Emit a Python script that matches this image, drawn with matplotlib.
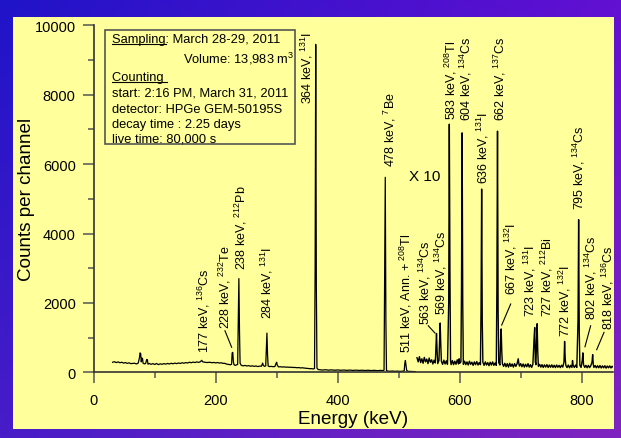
import numpy as np
import matplotlib
matplotlib.use('Agg')
import matplotlib.pyplot as plt
from matplotlib.patches import Rectangle
from matplotlib.lines import Line2D
from matplotlib.transforms import IdentityTransform
from matplotlib.ticker import MultipleLocator

plt.rcParams['font.family'] = ['Liberation Sans', 'DejaVu Sans']
plt.rcParams['mathtext.fontset'] = 'custom'
plt.rcParams['mathtext.rm'] = 'Liberation Sans'
plt.rcParams['mathtext.it'] = 'Liberation Sans:italic'
plt.rcParams['mathtext.bf'] = 'Liberation Sans:bold'
plt.rcParams['mathtext.default'] = 'regular'

# ---------------- data ----------------
# raw spectrum (keV, counts)
energy_raw = [31, 34, 37, 40, 43, 46, 49, 52, 55, 58, 61, 64, 67, 70, 73, 75, 76, 77, 78, 79, 80, 81,
              83, 85, 87, 88, 89, 91, 94, 97, 100, 103, 106, 109, 112, 115, 118, 121, 124, 127, 130,
              133, 136, 139, 142, 145, 148, 151, 154, 157, 160, 163, 166, 169, 172, 175, 177, 179,
              182, 185, 188, 191, 194, 197, 200, 203, 206, 209, 212, 215, 218, 221, 224, 226, 227,
              228, 229, 230, 232, 234, 236, 237, 238, 239, 240, 242, 245, 248, 251, 254, 257, 260,
              263, 266, 269, 272, 275, 277, 278, 280, 282, 283, 284, 285, 286, 288, 291, 294, 297,
              299, 300, 301, 303, 306, 309, 312, 315, 318, 321, 324, 327, 330, 333, 336, 339, 342,
              345, 348, 351, 354, 357, 360, 362, 363, 364, 365, 366, 368, 371, 375, 380, 385, 390,
              395, 400, 405, 410, 415, 420, 425, 430, 435, 440, 445, 450, 455, 460, 465, 470, 474,
              476, 477, 478, 479, 480, 482, 486, 490, 494, 498, 502, 506, 509, 510, 511, 512, 513,
              515, 519, 523, 527]
counts_raw = [290, 305, 280, 300, 275, 290, 265, 280, 258, 272, 250, 255, 262, 240, 265, 420, 560, 540,
              300, 410, 400, 260, 245, 250, 370, 360, 235, 255, 230, 250, 225, 255, 220, 245, 230,
              250, 235, 255, 240, 260, 245, 265, 250, 268, 255, 275, 262, 280, 268, 290, 276, 295,
              280, 300, 285, 305, 345, 298, 292, 282, 285, 288, 275, 285, 270, 282, 266, 274, 258,
              258, 236, 228, 216, 232, 560, 575, 300, 220, 198, 214, 226, 1500, 2700, 1200, 260,
              200, 186, 198, 182, 192, 176, 186, 172, 182, 166, 178, 176, 265, 200, 172, 184, 700,
              1130, 500, 180, 166, 170, 162, 166, 260, 290, 200, 156, 160, 152, 156, 148, 150, 144,
              146, 138, 140, 132, 136, 126, 130, 122, 116, 112, 104, 106, 96, 110, 3000, 9450, 2500,
              120, 80, 72, 65, 74, 62, 70, 60, 68, 58, 65, 56, 64, 55, 62, 54, 60, 52, 59, 50, 57,
              48, 55, 50, 60, 3000, 5620, 1500, 50, 35, 30, 36, 28, 34, 26, 32, 40, 250, 340, 200,
              60, 28, 25, 22, 20]

# x10 expanded spectrum (keV, counts)
energy_x10 = [530, 532, 534, 536, 538, 540, 542, 544, 546, 548, 550, 552, 554, 556, 558, 560,
              561, 562, 563, 564, 566, 567, 568, 569, 570, 572, 574, 576, 578, 580,
              582, 583, 584, 585, 586, 588, 590, 592, 594, 596, 598, 599, 600, 602,
              603, 604, 605, 606, 608, 610, 612, 614, 616, 618, 620, 622, 624, 626, 628, 630, 632, 634,
              635, 636, 637, 638, 640, 642, 644, 646, 648, 650, 652, 654, 656, 658, 660,
              661, 662, 663, 664, 666, 667, 668, 669, 670, 672, 674, 676, 678, 680,
              682, 684, 686, 688, 690, 692, 694, 696, 697, 698, 700, 702, 704, 706, 708, 710,
              712, 714, 716, 718, 720, 722, 723, 724, 725, 726, 727, 728, 729,
              731, 733, 735, 737, 739, 741, 743, 745, 747, 749, 751, 753, 755, 757, 759, 761, 763, 765, 767, 769,
              771, 772, 773, 774, 776, 778, 780, 782, 784, 785, 786, 788, 790, 792,
              794, 795, 796, 797, 799, 801, 802, 803, 805, 807, 809, 811, 813, 815,
              817, 818, 819, 820, 822, 824, 826, 828, 830, 832, 834, 836, 838, 840, 842, 844, 846, 848, 850, 852]
counts_x10 = [420, 300, 450, 280, 390, 260, 430, 300, 380, 250, 410, 290, 360, 240, 350, 270,
              700, 1120, 600, 250, 340, 900, 1420, 800, 320, 230, 350, 240, 330, 230,
              2000, 7150, 3000, 330, 220, 340, 220, 320, 230, 360, 240, 390, 260, 300,
              2500, 6900, 2000, 230, 320, 220, 300, 210, 320, 230, 290, 200, 300, 220, 310, 210, 280, 220,
              1800, 5280, 1500, 290, 200, 300, 210, 280, 190, 290, 210, 300, 200, 270, 200,
              2500, 6950, 1800, 280, 210, 900, 1250, 600, 250, 170, 260, 160, 250, 150,
              260, 170, 240, 150, 250, 170, 240, 390, 250, 180, 250, 160, 240, 150, 230, 160,
              250, 150, 220, 140, 230, 1000, 1290, 300, 220, 900, 1400, 600, 170,
              230, 150, 220, 140, 215, 150, 220, 140, 210, 145, 215, 140, 205, 135, 210, 145, 200, 135, 205, 150,
              300, 890, 400, 200, 135, 210, 130, 200, 140, 340, 200, 140, 210, 140,
              1500, 4400, 1200, 200, 140, 350, 560, 220, 140, 200, 130, 200, 135, 190,
              300, 510, 230, 140, 195, 130, 190, 130, 195, 125, 185, 130, 190, 120, 180, 130, 185, 125, 175, 140]

x_ticks = [0, 200, 400, 600, 800]
y_ticks = [0, 2000, 4000, 6000, 8000, 10000]

peak_labels = ["177 keV, $^{136}$Cs", "228 keV, $^{232}$Te", "238 keV, $^{212}$Pb", "284 keV, $^{131}$I",
               "364 keV, $^{131}$I", "478 keV, $^{7}$Be", "511 keV, Ann. + $^{208}$Tl",
               "563 keV, $^{134}$Cs", "569 keV, $^{134}$Cs", "583 keV, $^{208}$Tl",
               "604 keV, $^{134}$Cs", "636 keV, $^{131}$I", "662 keV, $^{137}$Cs",
               "667 keV, $^{132}$I", "723 keV, $^{131}$I", "727 keV, $^{212}$Bi",
               "772 keV, $^{132}$I", "795 keV, $^{134}$Cs", "802 keV, $^{134}$Cs",
               "818 keV, $^{136}$Cs"]

info_lines = ["Sampling: March 28-29, 2011", "Volume: 13,983 m$^3$", "Counting ",
              "start: 2:16 PM, March 31, 2011", "detector: HPGe GEM-50195S",
              "decay time : 2.25 days", "live time: 80,000 s"]

# ---------------- layout (label anchor positions, data coords) ----------------
label_pos = [(180.5, 575), (214.7, 1266), (241.2, 2973), (284.4, 1554), (349.2, 7770),
             (484.8, 5937), (511.7, 575), (543.0, 1390), (569.0, 1678), (586.0, 7290),
             (610.0, 7270), (637.9, 5468), (666.0, 7270), (683.8, 2253), (714.4, 1611),
             (742.3, 1611), (772.6, 1055), (795.2, 4700), (815.5, 1534), (842.3, 1246)]
leaders = {1: ((215.2, 1197), (226.2, 720)),
           7: ((548.5, 1341), (559.5, 1131)),
           13: ((683.6, 1968), (668.9, 1361)),
           18: ((814.7, 1341), (805.4, 737)),
           19: ((836.6, 1151), (824.6, 651))}

W, H = 621, 439
fig = plt.figure(figsize=(W / 100, H / 100), dpi=100)

# background gradient + yellow panel
bg = fig.add_axes([0, 0, 1, 1], zorder=-10)
tl = np.array([0x20, 0x14, 0xc8]) / 255
tr = np.array([0x62, 0x10, 0xd2]) / 255
bl = np.array([0x48, 0x1c, 0xc8]) / 255
br = np.array([0x80, 0x24, 0xc0]) / 255
u = np.linspace(0, 1, 64)[None, :, None]
v = np.linspace(0, 1, 64)[:, None, None]
img = tl * (1 - u) * (1 - v) + tr * u * (1 - v) + bl * (1 - u) * v + br * u * v
bg.imshow(img, aspect='auto', extent=[0, 1, 0, 1], origin='upper', interpolation='bilinear')
bg.add_patch(Rectangle((13 / W, 9 / H), 601 / W, 412 / H, facecolor='#ffff9c', edgecolor='none',
                       transform=bg.transAxes))
bg.set_xlim(0, 1)
bg.set_ylim(0, 1)
bg.axis('off')

ax = fig.add_axes([93.7 / W, 65.7 / H, 519.7 / W, 347 / H])
ax.patch.set_visible(False)
ax.plot(energy_raw, counts_raw, color='black', lw=0.9)
ax.plot(energy_x10, counts_x10, color='black', lw=1.0)
ax.set_xlim(0, 852)
ax.set_ylim(0, 10000)
ax.set_xticks(x_ticks)
ax.set_yticks(y_ticks)
ax.xaxis.set_minor_locator(MultipleLocator(100))
ax.yaxis.set_minor_locator(MultipleLocator(1000))
for s in ['top', 'right']:
    ax.spines[s].set_visible(False)
for s in ['left', 'bottom']:
    ax.spines[s].set_color('#333333')
    ax.spines[s].set_linewidth(1.2)
ax.tick_params(which='major', length=8, width=1.1, color='#555555', labelsize=10.5)
ax.tick_params(axis='x', which='major', pad=7)
ax.tick_params(axis='y', which='major', pad=5)
ax.tick_params(which='minor', length=4.5, width=1.1, color='#555555')
ax.set_xlabel('Energy (keV)', fontsize=13.6, labelpad=2)
ax.set_ylabel('Counts per channel', fontsize=13.6)
ax.yaxis.set_label_coords(-0.113, 0.5)

for i, (txt, (x, y)) in enumerate(zip(peak_labels, label_pos)):
    ax.text(x, y, txt, rotation=90, ha='center', va='bottom', fontsize=9, clip_on=False)
for i, (p0, p1) in leaders.items():
    ax.plot([p0[0], p1[0]], [p0[1], p1[1]], color='black', lw=0.8)

ax.text(543, 5657, 'X 10', ha='center', va='center', fontsize=11)

# info box
ax.add_patch(Rectangle((18.5, 6568), 311.5, 3292, fill=False, edgecolor='#555555', lw=1.2))
info_y = [9514, 8938, 8412, 7989, 7511, 7079, 6665]
fs_info = 9.3
for k, (line, y) in enumerate(zip(info_lines, info_y)):
    if k == 1:
        ax.text(329, y, line, ha='right', va='baseline', fontsize=fs_info)
    else:
        ax.text(30.2, y, line, ha='left', va='baseline', fontsize=fs_info)

fig.canvas.draw()
r = fig.canvas.get_renderer()
for word, y in [("Sampling", info_y[0]), ("Counting ", info_y[2])]:
    t = ax.text(30.2, y, word, ha='left', va='baseline', fontsize=fs_info)
    bb = t.get_window_extent(r)
    t.remove()
    xb, yb = ax.transData.transform((30.2, y))
    fig.add_artist(Line2D([bb.x0, bb.x1], [yb - 1.6, yb - 1.6], transform=IdentityTransform(),
                          color='black', lw=0.8))

fig.savefig('out.png', dpi=100)
